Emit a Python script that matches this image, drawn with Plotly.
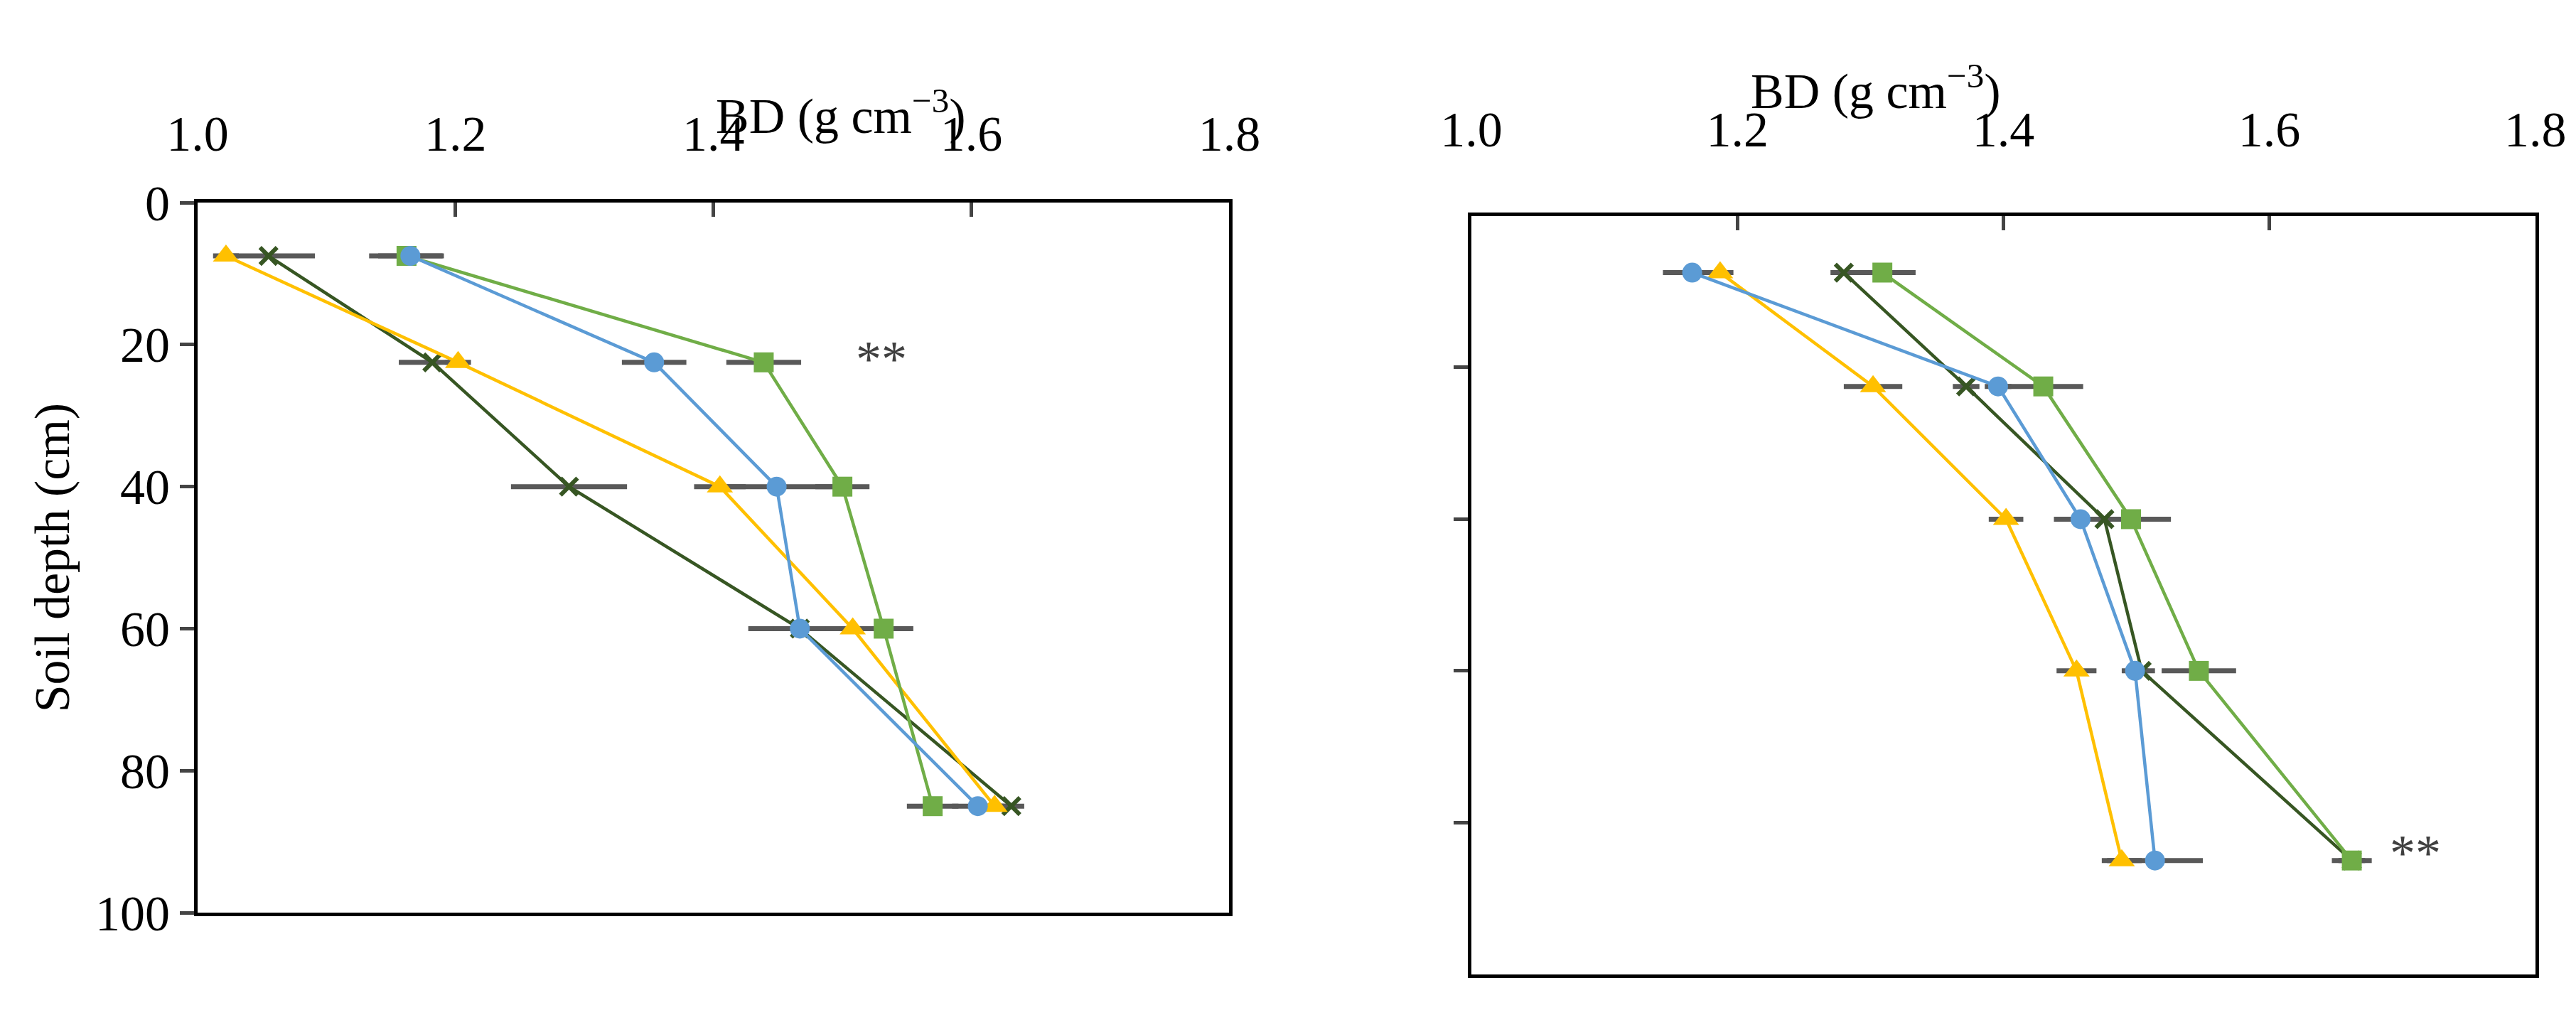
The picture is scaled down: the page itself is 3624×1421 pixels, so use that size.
import plotly.graph_objects as go

depth = [7.5, 22.5, 40, 60, 85]
# left panel
L_blue = [1.165, 1.354, 1.449, 1.467, 1.605]
L_green = [1.162, 1.439, 1.500, 1.532, 1.570]
L_yellow = [1.022, 1.202, 1.405, 1.508, 1.618]
L_dark = [1.055, 1.182, 1.288, 1.467, 1.631]
L_blue_err = [0.025, 0.025, 0.045, 0.02, 0.02]
L_green_err = [0.029, 0.029, 0.021, 0.023, 0.02]
L_yellow_err = [0.01, 0.01, 0.02, 0.01, 0.01]
L_dark_err = [0.036, 0.026, 0.045, 0.04, 0.01]
# right panel
R_blue = [1.166, 1.396, 1.458, 1.499, 1.514]
R_green = [1.309, 1.430, 1.496, 1.547, 1.662]
R_yellow = [1.187, 1.302, 1.402, 1.455, 1.489]
R_dark = [1.280, 1.372, 1.476, 1.504, 1.662]
R_blue_err = [0.022, 0.01, 0.02, 0.01, 0.036]
R_green_err = [0.025, 0.03, 0.03, 0.028, 0.01]
R_yellow_err = [0.01, 0.022, 0.013, 0.015, 0.015]
R_dark_err = [0.01, 0.01, 0.01, 0.01, 0.015]

xticks = [1.0, 1.2, 1.4, 1.6, 1.8]
yticks = [0, 20, 40, 60, 80, 100]
yticks_right = [20, 40, 60, 80]

series = [
    ("#375623", "x-thin", 24),
    ("#FFC000", "triangle-up", 32),
    ("#70AD47", "square", 28),
    ("#5B9BD5", "circle", 28),
]
FONT = "Liberation Serif"
fig = go.Figure()
panels = [
    ("x", "y", [L_dark, L_yellow, L_green, L_blue], [L_dark_err, L_yellow_err, L_green_err, L_blue_err]),
    ("x2", "y2", [R_dark, R_yellow, R_green, R_blue], [R_dark_err, R_yellow_err, R_green_err, R_blue_err]),
]
for xa, ya, vals, errs in panels:
    for v, e in zip(vals, errs):
        fig.add_trace(go.Scatter(x=v, y=depth, xaxis=xa, yaxis=ya, mode="markers",
                                 marker=dict(size=1, color="rgba(0,0,0,0)"),
                                 error_x=dict(type="data", array=e, color="#595959", thickness=7, width=0),
                                 showlegend=False, hoverinfo="skip"))
    for (c, sym, sz), v in zip(series, vals):
        fig.add_trace(go.Scatter(x=v, y=depth, xaxis=xa, yaxis=ya, mode="lines+markers",
                                 line=dict(color=c, width=4.5),
                                 marker=dict(symbol=sym, size=sz, color=c,
                                             line=dict(width=6 if sym == "x-thin" else 0, color=c)),
                                 showlegend=False))

axfont = dict(family=FONT, size=70, color="black")
common_x = dict(range=[1.0, 1.8], tickvals=xticks, ticktext=[f"{t:.1f}" for t in xticks], side="top",
                ticks="inside", ticklen=20, tickwidth=5, showline=True, linewidth=5, linecolor="black",
                mirror=True, showgrid=False, zeroline=False, tickfont=axfont, automargin=False)
common_y = dict(range=[100, 0], ticks="outside", ticklen=20, tickwidth=5,
                showline=True, linewidth=5, linecolor="black", mirror=True, showgrid=False,
                zeroline=False, tickfont=axfont, automargin=False)
fig.update_layout(
    width=3624, height=1421, paper_bgcolor="white", plot_bgcolor="white",
    margin=dict(l=0, r=0, t=0, b=0),
    xaxis=dict(domain=[0.0745, 0.475], anchor="y", ticklabelstandoff=40, **common_x),
    yaxis=dict(domain=[0.102, 0.805], anchor="x", tickvals=yticks, ticktext=[str(t) for t in yticks],
               title=dict(text="Soil depth (cm)", font=axfont, standoff=15), **common_y),
    xaxis2=dict(domain=[0.569, 0.982], anchor="y2", ticklabelstandoff=65, **common_x),
    yaxis2=dict(domain=[0.041, 0.792], anchor="x2", tickvals=yticks_right, showticklabels=False, **common_y),
    annotations=[
        dict(text="BD (g cm<sup>−3</sup>)", x=0.275, y=1 - 104 / 1421, xref="paper", yref="paper",
             showarrow=False, font=axfont),
        dict(text="BD (g cm<sup>−3</sup>)", x=0.775, y=1 - 69 / 1421, xref="paper", yref="paper",
             showarrow=False, font=axfont),
        dict(text="**", x=1.53, y=22, xref="x", yref="y", showarrow=False,
             font=dict(family=FONT, size=72, color="#404040")),
        dict(text="**", x=1.71, y=84, xref="x2", yref="y2", showarrow=False,
             font=dict(family=FONT, size=72, color="#404040")),
    ],
)
fig.write_html("out.html")
